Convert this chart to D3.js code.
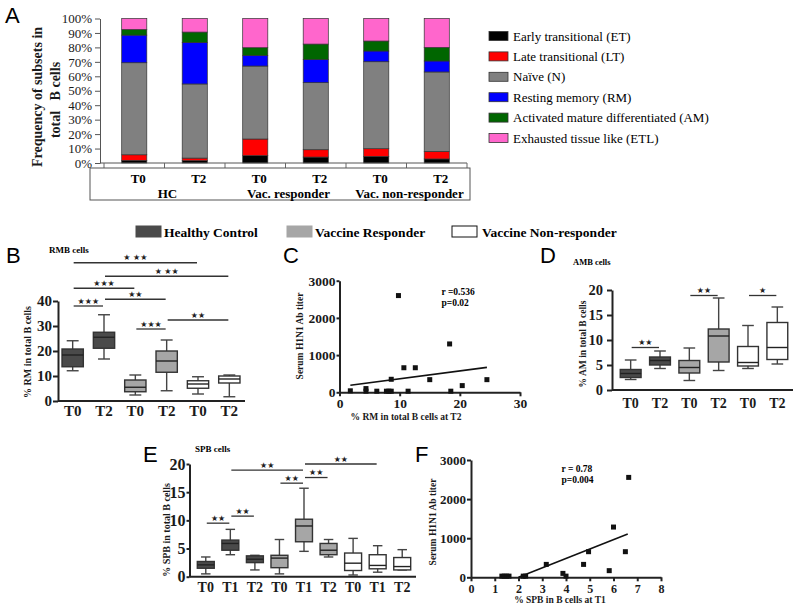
<!DOCTYPE html>
<html>
<head>
<meta charset="utf-8">
<script src="https://d3js.org/d3.v7.min.js"></script>
<style>
  body { margin: 0; background: #fff; }
</style>
</head>
<body>
<div id="chart"></div>
<script>
// ---------- data ----------
// panel A: stacked frequencies (%) of B cell subsets
const subsetNames = ["Early transitional (ET)", "Late transitional (LT)", "Naïve (N)",
  "Resting memory (RM)", "Activated mature differentiated (AM)", "Exhausted tissue like (ETL)"];
const subsetKeys = ["ET", "LT", "N", "RM", "AM", "ETL"];
const subsetColors = ["#000000", "#ff0000", "#808080", "#0000ff", "#006600", "#ff66cc"];
const timesA = ["T0", "T2", "T0", "T2", "T0", "T2"];
const groupsA = ["HC", "Vac. responder", "Vac. non-responder"];
const ET  = [1.8, 1.6, 5.1, 4.1, 4.6, 2.8];
const LT  = [3.9, 1.8, 11.5, 5.1, 5.3, 5.2];
const N   = [63.7, 51.3, 50.5, 46.4, 60.2, 55.0];
const RM  = [19.1, 28.7, 7.4, 16.1, 7.4, 7.6];
const AM  = [3.9, 7.2, 5.3, 10.6, 6.9, 9.4];
const ETL = [7.6, 9.4, 20.2, 17.7, 15.6, 20.0];

// groups for box plots
const groupNames = ["Healthy Control", "Vaccine Responder", "Vaccine Non-responder"];
const groupFills = ["#4a4a4a", "#a6a6a6", "#ffffff"];

// panel B: RM B cells, [min, q1, median, q3, max]
const rmTimes = ["T0", "T2", "T0", "T2", "T0", "T2"];
const rmGroup = [0, 0, 1, 1, 2, 2];
const rmBoxes = [[12.1, 13.7, 18.4, 20.8, 24.1], [16.8, 21.1, 25.5, 27.5, 34.5],
  [2.4, 3.7, 5.5, 8.4, 10.4], [4.1, 11.5, 16.0, 20.0, 24.4],
  [2.8, 5.1, 6.8, 8.1, 9.7], [1.7, 7.2, 8.8, 10.0, 10.4]];
// significance bars: [from, to, level, stars]
const rmSig = [[0, 4, 55.3, "★ ★★"], [1, 5, 49.9, "★ ★★"], [0, 2, 45.1, "★★★"],
  [0, 1, 38.0, "★★★"], [1, 3, 40.7, "★★"], [2, 3, 28.8, "★★★"], [3, 5, 32.4, "★★"]];

// panel C: RM at T2 vs titer
const rmX = [1.8, 4.4, 4.4, 6.2, 7.8, 8.2, 8.6, 8.6, 9.8, 10.7, 11.4, 12.6, 15.0, 18.3, 18.5, 20.4, 24.5];
const rmY = [40, 100, 30, 30, 30, 30, 30, 350, 2600, 660, 30, 660, 340, 1300, 30, 180, 340];
const rmFit = [[1.8, 190], [24.5, 670]];

// panel D: AM B cells
const amTimes = ["T0", "T2", "T0", "T2", "T0", "T2"];
const amGroup = [0, 0, 1, 1, 2, 2];
const amBoxes = [[2.1, 2.5, 3.3, 4.1, 6.0], [4.3, 5.0, 5.9, 6.6, 7.8],
  [1.9, 3.4, 4.5, 5.9, 8.4], [3.9, 5.6, 10.8, 12.2, 18.4],
  [4.3, 4.8, 5.5, 8.7, 12.9], [5.2, 6.1, 8.5, 13.5, 16.6]];
const amSig = [[0, 1, 8.5, "★★"], [2, 3, 18.9, "★★"], [4, 5, 18.9, "★"]];

// panel E: SPB cells
const spbTimes = ["T0", "T1", "T2", "T0", "T1", "T2", "T0", "T1", "T2"];
const spbGroup = [0, 0, 0, 1, 1, 1, 2, 2, 2];
const spbBoxes = [[0.5, 1.5, 2.1, 2.7, 3.5], [3.9, 4.7, 5.9, 6.5, 8.4], [1.2, 2.5, 3.1, 3.7, 3.8],
  [0.5, 1.6, 3.3, 3.8, 6.6], [4.5, 6.2, 9.0, 10.2, 15.7], [3.5, 3.9, 4.7, 5.9, 6.6],
  [0.3, 1.1, 2.4, 4.2, 6.8], [0.8, 1.4, 2.0, 3.9, 5.5], [1.2, 1.2, 1.8, 3.4, 4.8]];
const spbSig = [[0, 1, 9.5, "★★"], [1, 2, 10.75, "★★"], [1, 4, 18.9, "★★"],
  [3, 4, 16.6, "★★"], [4, 5, 17.6, "★★"], [4, 7, 20.0, "★★"]];

// panel F: SPB at T1 vs titer
const spbX = [1.3, 1.4, 1.5, 1.6, 2.2, 2.3, 3.17, 3.87, 4.0, 4.74, 4.95, 5.82, 6.0, 6.5, 6.64];
const spbY = [30, 30, 30, 30, 30, 30, 330, 100, 30, 330, 655, 170, 1285, 655, 2555];
const spbFit = [[2.0, 0], [6.6, 1110]];

// ---------- drawing ----------
const serif = "'Liberation Serif', 'Times New Roman', serif";
const sans = "'Liberation Sans', Arial, sans-serif";

const svg = d3.select("#chart").append("svg")
  .attr("width", 800).attr("height", 609)
  .attr("font-family", serif)
  .style("background", "#fff");

function styleAxis(sel, fs, sw, bold = true) {
  sel.selectAll("text").attr("font-family", serif).attr("font-weight", bold ? "bold" : "normal")
    .attr("font-size", fs).attr("fill", "#1a1a1a");
  sel.selectAll("path.domain, .tick line").attr("stroke", "#222").attr("stroke-width", sw);
}

function letter(txt, x, y) {
  svg.append("text").attr("x", x).attr("y", y).attr("font-family", sans)
    .attr("font-size", 22).text(txt);
}

function label(g, txt, x, y, fs, rot) {
  const t = g.append("text").attr("font-weight", "bold").attr("font-size", fs)
    .attr("text-anchor", "middle").attr("fill", "#1a1a1a").text(txt);
  if (rot) t.attr("transform", `translate(${x},${y}) rotate(-90)`);
  else t.attr("x", x).attr("y", y);
  return t;
}

// ---- panel A ----
const gA = svg.append("g");
letter("A", 5, 23);
const xA = d3.scaleBand().domain(d3.range(6)).range([104, 467]).paddingInner(0.585).paddingOuter(0.2925);
const yA = d3.scaleLinear().domain([0, 100]).range([163, 18.5]);
const seriesA = [ET, LT, N, RM, AM, ETL];
const rowsA = d3.range(6).map(i => {
  const r = { i };
  subsetKeys.forEach((k, j) => r[k] = seriesA[j][i]);
  return r;
});
const stackA = d3.stack().keys(subsetKeys)(rowsA);
gA.selectAll("g.layer").data(stackA).join("g").attr("class", "layer")
  .attr("fill", (d, j) => subsetColors[j])
  .selectAll("rect").data(d => d).join("rect")
  .attr("x", d => xA(d.data.i))
  .attr("y", d => yA(d[1]))
  .attr("width", xA.bandwidth())
  .attr("height", d => yA(d[0]) - yA(d[1]))
  .attr("stroke", "#333").attr("stroke-width", 0.7);

const ayA = gA.append("g").attr("transform", "translate(100,0)")
  .call(d3.axisLeft(yA).tickValues(d3.range(0, 101, 10)).tickFormat(d => d + "%")
    .tickSize(5).tickPadding(3).tickSizeOuter(0));
styleAxis(ayA, 13, 1, false);
ayA.selectAll("path.domain, .tick line").attr("stroke", "#555");

gA.append("line").attr("x1", 100).attr("x2", 467).attr("y1", yA(0)).attr("y2", yA(0))
  .attr("stroke", "#555");
gA.selectAll("line.sep").data(d3.range(7)).join("line").attr("class", "sep")
  .attr("x1", k => xA.range()[0] + k * xA.step()).attr("x2", k => xA.range()[0] + k * xA.step())
  .attr("y1", yA(0)).attr("y2", yA(0) + 5).attr("stroke", "#666");
gA.append("rect").attr("x", 90).attr("y", 168).attr("width", 380).attr("height", 32)
  .attr("fill", "none").attr("stroke", "#555");
gA.selectAll("text.time").data(timesA).join("text").attr("class", "time")
  .attr("x", (d, i) => xA(i) + xA.bandwidth() / 2 + 4).attr("y", 182.5)
  .attr("text-anchor", "middle").attr("font-weight", "bold").attr("font-size", 13).text(d => d);
gA.selectAll("text.grp").data(groupsA).join("text").attr("class", "grp")
  .attr("x", (d, i) => (xA(2 * i) + xA(2 * i + 1) + xA.bandwidth()) / 2 + 3).attr("y", 197.5)
  .attr("text-anchor", "middle").attr("font-weight", "bold").attr("font-size", 13).text(d => d);

label(gA, "Frequency of subsets in", 42, 97, 14, true);
label(gA, "total\u00a0\u00a0 B cells", 60, 100, 14, true);

// legend A
const legA = gA.selectAll("g.legA").data(subsetNames).join("g").attr("class", "legA")
  .attr("transform", (d, i) => `translate(489,${36 + i * 20.4})`);
legA.append("rect").attr("y", -4.5).attr("width", 19).attr("height", 9)
  .attr("fill", (d, i) => subsetColors[i]).attr("stroke", "#333").attr("stroke-width", 0.8);
legA.append("text").attr("x", 24).attr("y", 4.5).attr("font-size", 13).text(d => d);

// ---- group legend ----
const legX = [136, 287, 452];
const legG = svg.selectAll("g.legG").data(groupNames).join("g").attr("class", "legG")
  .attr("transform", (d, i) => `translate(${legX[i]},226)`);
legG.append("rect").attr("width", 25).attr("height", 11)
  .attr("fill", (d, i) => groupFills[i])
  .attr("stroke", (d, i) => i === 2 ? "#111" : groupFills[i]).attr("stroke-width", 1);
legG.append("text").attr("x", (d, i) => i === 2 ? 30 : 28).attr("y", 11)
  .attr("font-weight", "bold").attr("font-size", 13.5).text(d => d);

// ---- box plot panels ----
function boxPanel(g, o) {
  const x = d3.scaleBand().domain(d3.range(o.boxes.length)).range(o.xr)
    .paddingInner(o.pad).paddingOuter(o.pad / 2);
  const y = d3.scaleLinear().domain(o.yd).range(o.yr);
  const bw = x.bandwidth();
  const cx = i => x(i) + bw / 2;

  const ay = g.append("g").attr("transform", `translate(${o.ax},0)`)
    .call(d3.axisLeft(y).tickValues(o.yticks).tickSize(o.tk).tickPadding(o.tp).tickSizeOuter(0));
  styleAxis(ay, o.yfs, 2);

  const axb = g.append("g").attr("transform", `translate(0,${y(0)})`)
    .call(d3.axisBottom(x).tickSize(0).tickPadding(o.xp).tickFormat(i => o.labels[i]));
  axb.select(".domain").remove();
  styleAxis(axb, o.xfs, 2);
  g.append("line").attr("x1", o.ax).attr("x2", o.xEnd).attr("y1", y(0)).attr("y2", y(0))
    .attr("stroke", "#222").attr("stroke-width", 2);

  const b = g.selectAll("g.box").data(o.boxes).join("g").attr("class", "box");
  b.append("line").attr("x1", (d, i) => cx(i)).attr("x2", (d, i) => cx(i))
    .attr("y1", d => y(d[4])).attr("y2", d => y(d[0])).attr("stroke", "#444").attr("stroke-width", 1.4);
  [0, 4].forEach(k => {
    b.append("line").attr("x1", (d, i) => cx(i) - bw * 0.28).attr("x2", (d, i) => cx(i) + bw * 0.28)
      .attr("y1", d => y(d[k])).attr("y2", d => y(d[k])).attr("stroke", "#444").attr("stroke-width", 1.4);
  });
  b.append("rect").attr("x", (d, i) => x(i)).attr("width", bw)
    .attr("y", d => y(d[3])).attr("height", d => y(d[1]) - y(d[3]))
    .attr("fill", (d, i) => groupFills[o.group[i]]).attr("stroke", "#333").attr("stroke-width", 1.4);
  b.append("line").attr("x1", (d, i) => x(i)).attr("x2", (d, i) => x(i) + bw)
    .attr("y1", d => y(d[2])).attr("y2", d => y(d[2])).attr("stroke", "#222").attr("stroke-width", 1.4);

  const s = g.selectAll("g.sig").data(o.sig).join("g").attr("class", "sig");
  s.append("line").attr("x1", d => cx(d[0]) + 1).attr("x2", d => cx(d[1]) - 1)
    .attr("y1", d => y(d[2])).attr("y2", d => y(d[2])).attr("stroke", "#333").attr("stroke-width", 1.3);
  s.append("text").attr("x", d => (cx(d[0]) + cx(d[1])) / 2).attr("y", d => y(d[2]) - 2.5)
    .attr("text-anchor", "middle").attr("font-family", "'DejaVu Sans', sans-serif")
    .attr("font-size", 8).attr("fill", "#222").text(d => d[3]);
}

// panel B
const gB = svg.append("g");
letter("B", 6, 263);
gB.append("text").attr("x", 49).attr("y", 253).attr("font-weight", "bold").attr("font-size", 9).text("RMB cells");
boxPanel(gB, { boxes: rmBoxes, group: rmGroup, labels: rmTimes, sig: rmSig,
  xr: [57, 245], pad: 0.32, yd: [0, 40], yr: [401, 301], yticks: [0, 10, 20, 30, 40],
  ax: 58, xEnd: 245, tk: 5, tp: 1, yfs: 15, xfs: 15, xp: 4.5 });
label(gB, "% RM in total B cells", 31, 352, 10, true);

// panel D
const gD = svg.append("g");
letter("D", 540, 263);
gD.append("text").attr("x", 573).attr("y", 265).attr("font-weight", "bold").attr("font-size", 8.5).text("AMB cells");
boxPanel(gD, { boxes: amBoxes, group: amGroup, labels: amTimes, sig: amSig,
  xr: [616, 792], pad: 0.29, yd: [0, 20], yr: [390, 290], yticks: [0, 5, 10, 15, 20],
  ax: 612, xEnd: 793, tk: 5, tp: 4, yfs: 14.5, xfs: 14, xp: 8 });
label(gD, "% AM in total B cells", 586, 344, 9.5, true);

// panel E
const gE = svg.append("g");
letter("E", 143, 462);
gE.append("text").attr("x", 195).attr("y", 452).attr("font-weight", "bold").attr("font-size", 9).text("SPB cells");
boxPanel(gE, { boxes: spbBoxes, group: spbGroup, labels: spbTimes, sig: spbSig,
  xr: [193.5, 414.5], pad: 0.31, yd: [0, 20], yr: [576.7, 464], yticks: [0, 5, 10, 15, 20],
  ax: 189.5, xEnd: 416, tk: 3, tp: 1, yfs: 16, xfs: 14, xp: 5.5 });
label(gE, "% SPB in total B cells", 170, 530, 10, true);

// ---- scatter panels ----
function scatterPanel(g, o) {
  const x = d3.scaleLinear().domain(o.xd).range(o.xr);
  const y = d3.scaleLinear().domain(o.yd).range(o.yr);
  const ay = g.append("g").attr("transform", `translate(${x(0)},0)`)
    .call(d3.axisLeft(y).tickValues(o.yticks).tickFormat(d3.format("d"))
      .tickSize(o.ytk).tickPadding(o.ytp).tickSizeOuter(0));
  styleAxis(ay, o.yfs, 2);
  const ax = g.append("g").attr("transform", `translate(0,${y(0)})`)
    .call(d3.axisBottom(x).tickValues(o.xticks).tickFormat(d3.format("d"))
      .tickSize(4).tickPadding(o.xtp).tickSizeOuter(0));
  styleAxis(ax, o.xfs, 2);
  g.selectAll("rect.pt").data(o.xs).join("rect").attr("class", "pt")
    .attr("x", d => x(d) - 2.5).attr("y", (d, i) => Math.min(y(o.ys[i]), y(0) - 1) - 2.5)
    .attr("width", 5).attr("height", 5).attr("fill", "#111");
  g.append("line").attr("x1", x(o.fit[0][0])).attr("y1", y(o.fit[0][1]))
    .attr("x2", x(o.fit[1][0])).attr("y2", y(o.fit[1][1]))
    .attr("stroke", "#111").attr("stroke-width", 1.6);
  o.notes.forEach((t, k) => {
    g.append("text").attr("x", o.noteX).attr("y", o.noteY + k * 11)
      .attr("font-weight", "bold").attr("font-size", 9.5).text(t);
  });
}

// panel C
const gC = svg.append("g");
letter("C", 283, 263);
scatterPanel(gC, { xs: rmX, ys: rmY, fit: rmFit, xd: [0, 30], xr: [339.5, 520],
  yd: [0, 3000], yr: [392.3, 280.7], yticks: [0, 1000, 2000, 3000], xticks: [0, 10, 20, 30],
  ytk: 3, ytp: 1, yfs: 13.5, xfs: 13.5, xtp: 2,
  notes: ["r =0.536", "p=0.02"], noteX: 441.5, noteY: 295 });
label(gC, "Serum H1N1 Ab titer", 303, 336, 9.5, true);
label(gC, "%  RM  in total B cells at T2", 406, 420, 9.5, false);

// panel F
const gF = svg.append("g");
letter("F", 415, 462);
scatterPanel(gF, { xs: spbX, ys: spbY, fit: spbFit, xd: [0, 8], xr: [471, 661],
  yd: [0, 3000], yr: [577.3, 460], yticks: [0, 1000, 2000, 3000], xticks: d3.range(0, 9),
  ytk: 4, ytp: 1, yfs: 13, xfs: 12, xtp: 3.5,
  notes: ["r = 0.78", "p=0.004"], noteX: 561.5, noteY: 472 });
label(gF, "Serum H1N1 Ab  titer", 436, 522, 9.5, true);
label(gF, "%  SPB in B cells at T1", 560, 603, 9.5, false);
</script>
</body>
</html>
